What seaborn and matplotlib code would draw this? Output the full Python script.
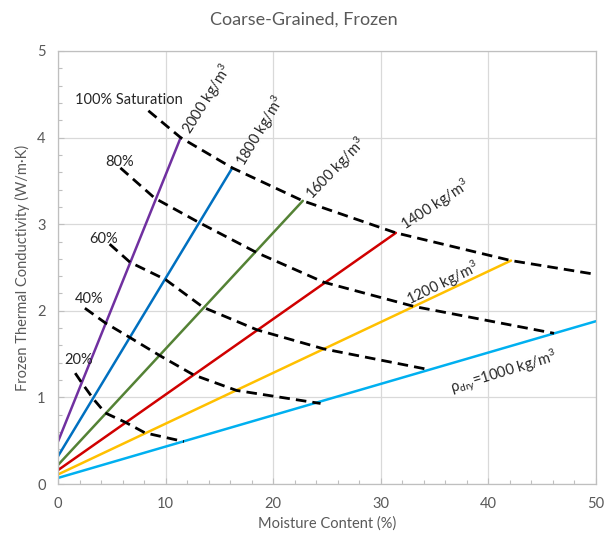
import pandas as pd
import matplotlib
matplotlib.use("Agg")
import matplotlib.pyplot as plt
import seaborn as sns

# dry density lines: straight from x=0 up to the 100% saturation point
DENSITIES = [2000, 1800, 1600, 1400, 1200, 1000]
DENSITY_COLORS = ["#7030A0", "#0070C0", "#548235", "#D00000", "#FFC000", "#00B0F0"]
MOISTURE_START = [0, 0, 0, 0, 0, 0]
MOISTURE_END = [11.4, 16.2, 22.75, 31.4, 42.1, 50.0]
K_START = [0.49, 0.32, 0.22, 0.16, 0.11, 0.07]
K_END = [4.00, 3.65, 3.27, 2.90, 2.58, 1.88]

# saturation curves (dashed)
SAT_LEVELS = ["100%", "80%", "60%", "40%", "20%"]
SAT100_X = [8.4, 11.4, 16.2, 22.75, 31.4, 42.1, 50.0]
SAT100_K = [4.31, 4.00, 3.65, 3.27, 2.90, 2.58, 2.42]
SAT80_X = [5.8, 9.0, 13.1, 18.5, 24.7, 33.1, 46.1]
SAT80_K = [3.65, 3.30, 3.02, 2.67, 2.33, 2.05, 1.74]
SAT60_X = [4.8, 6.7, 10.0, 13.5, 18.5, 24.7, 34.5]
SAT60_K = [2.77, 2.56, 2.36, 2.04, 1.78, 1.56, 1.32]
SAT40_X = [2.5, 4.4, 6.7, 9.5, 12.6, 16.6, 24.4]
SAT40_K = [2.03, 1.86, 1.69, 1.48, 1.26, 1.08, 0.93]
SAT20_X = [1.6, 2.2, 3.3, 4.4, 6.3, 8.1, 11.7]
SAT20_K = [1.28, 1.17, 0.98, 0.82, 0.71, 0.59, 0.49]

X_TICKS = [0, 10, 20, 30, 40, 50]
Y_TICKS = [0, 1, 2, 3, 4, 5]

GREY = "#595959"

sns.set_theme(style="white")
plt.rcParams["font.family"] = ["Lato", "DejaVu Sans"]
plt.rcParams["mathtext.fontset"] = "custom"
plt.rcParams["mathtext.rm"] = "Lato"
plt.rcParams["mathtext.it"] = "Lato:italic"

lines_df = pd.DataFrame({
    "moisture": MOISTURE_START + MOISTURE_END,
    "k": K_START + K_END,
    "density": DENSITIES + DENSITIES,
})

sat_frames = []
for level, xs, ks in zip(SAT_LEVELS,
                         [SAT100_X, SAT80_X, SAT60_X, SAT40_X, SAT20_X],
                         [SAT100_K, SAT80_K, SAT60_K, SAT40_K, SAT20_K]):
    sat_frames.append(pd.DataFrame({"moisture": xs, "k": ks, "saturation": level}))
sat_df = pd.concat(sat_frames, ignore_index=True)

fig = plt.figure(figsize=(6.05, 5.4), dpi=100)
ax = fig.add_axes([58 / 605, 56 / 540, 538 / 605, 433 / 540])

sns.lineplot(data=lines_df, x="moisture", y="k", hue="density",
             palette=dict(zip(DENSITIES, DENSITY_COLORS)), estimator=None,
             legend=False, lw=1.8, ax=ax)
sns.lineplot(data=sat_df, x="moisture", y="k", units="saturation",
             estimator=None, color="black", lw=2.0,
             linestyle=(0, (3.8, 2.2)), legend=False, ax=ax)

ax.set_xlim(0, 50)
ax.set_ylim(0, 5)
ax.set_xticks(X_TICKS)
ax.set_yticks(Y_TICKS)
ax.set_xticks([v for v in range(0, 51, 2)], minor=True)
ax.set_yticks([v / 5 for v in range(0, 26)], minor=True)
ax.grid(True, which="major", color="#D9D9D9", lw=0.9)
ax.set_axisbelow(True)
for s in ax.spines.values():
    s.set_color("#BFBFBF")
    s.set_linewidth(0.9)
ax.tick_params(which="both", direction="in", color="#BFBFBF", width=0.8,
               labelcolor=GREY, labelsize=10.5)
ax.tick_params(which="major", length=4)
ax.tick_params(which="minor", length=3)
ax.tick_params(axis="x", which="both", bottom=True, pad=9)
ax.tick_params(axis="y", which="both", left=True, pad=9)

ax.set_xlabel("Moisture Content (%)", color=GREY, fontsize=10.5, labelpad=4)
ax.set_ylabel("Frozen Thermal Conductivity (W/m·K)", color=GREY, fontsize=10.5, labelpad=5)
fig.suptitle("Coarse-Grained, Frozen", x=0.502, y=0.978, color=GREY, fontsize=13)

# saturation labels
sat_labels = [("100% Saturation", 1.55, 4.43), ("80%", 4.35, 3.72),
              ("60%", 2.95, 2.83), ("40%", 1.55, 2.14), ("20%", 0.6, 1.43)]
for txt, x, y in sat_labels:
    ax.text(x, y, txt, fontsize=10.5, color="#262626", ha="left", va="center")

# density labels
dens_labels = [("2000 kg/m$^3$", 11.9, 4.06, 58), ("1800 kg/m$^3$", 16.9, 3.69, 59),
               ("1600 kg/m$^3$", 23.3, 3.32, 46), ("1400 kg/m$^3$", 32.0, 2.97, 33),
               ("1200 kg/m$^3$", 32.5, 2.11, 26),
               (r"ρ$_{\mathrm{dry}}$=1000 kg/m$^3$", 36.5, 1.10, 17)]
for txt, x, y, rot in dens_labels:
    ax.text(x, y, txt, fontsize=10.5, color="#262626", ha="left", va="center",
            rotation=rot, rotation_mode="anchor")

fig.savefig("out.png", dpi=100)
